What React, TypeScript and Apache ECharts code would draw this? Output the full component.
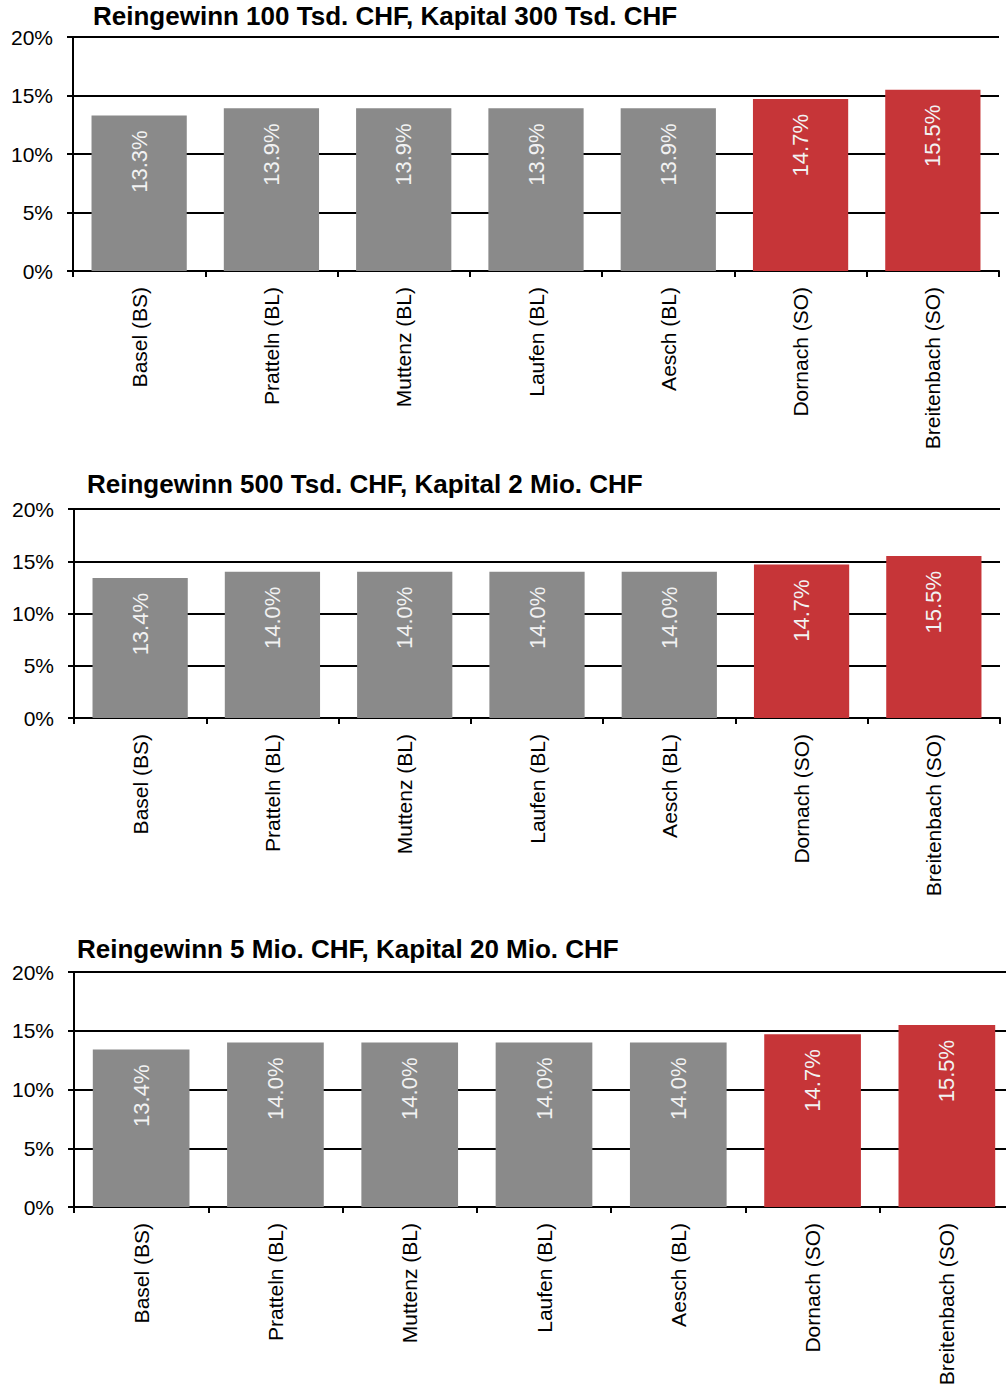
import React, { useEffect, useRef } from "react";
import * as echarts from "echarts";

// Municipalities compared in every panel
const categories = [
  "Basel (BS)",
  "Pratteln (BL)",
  "Muttenz (BL)",
  "Laufen (BL)",
  "Aesch (BL)",
  "Dornach (SO)",
  "Breitenbach (SO)",
];

// Panel titles
const panelTitles = [
  "Reingewinn 100 Tsd. CHF, Kapital 300 Tsd. CHF",
  "Reingewinn 500 Tsd. CHF, Kapital 2 Mio. CHF",
  "Reingewinn 5 Mio. CHF, Kapital 20 Mio. CHF",
];

// Total tax burden in percent
const valuesSmall = [13.3, 13.9, 13.9, 13.9, 13.9, 14.7, 15.5];
const valuesMedium = [13.4, 14.0, 14.0, 14.0, 14.0, 14.7, 15.5];
const valuesLarge = [13.4, 14.0, 14.0, 14.0, 14.0, 14.7, 15.5];

// Y axis ticks
const yTicks = [0, 5, 10, 15, 20];

const GRAY = "#8a8a8a";
const RED = "#c63538";
const FONT = "'Liberation Sans', Arial, sans-serif";

// Layout of each panel: plot area and title placement
const panels = [
  { values: valuesSmall, left: 73, top: 37, width: 926, height: 234, titleLeft: 93, titleTop: 3 },
  { values: valuesMedium, left: 74, top: 509, width: 926, height: 209, titleLeft: 87, titleTop: 471 },
  { values: valuesLarge, left: 74, top: 972, width: 940, height: 235, titleLeft: 77, titleTop: 936 },
];

export default function App() {
  const ref = useRef<HTMLDivElement>(null);

  useEffect(() => {
    if (!ref.current) return;
    const chart = echarts.init(ref.current, undefined, { renderer: "svg" });

    const option: any = {
      animation: false,
      backgroundColor: "#ffffff",
      title: panels.map((p, i) => ({
        text: panelTitles[i],
        left: p.titleLeft,
        top: p.titleTop,
        padding: 0,
        textStyle: { fontFamily: FONT, fontSize: 26, fontWeight: "bold", color: "#000" },
      })),
      grid: panels.map((p) => ({
        left: p.left,
        top: p.top,
        width: p.width,
        height: p.height,
        containLabel: false,
      })),
      xAxis: panels.map((_, i) => ({
        type: "category",
        gridIndex: i,
        data: categories,
        axisLine: { show: true, lineStyle: { color: "#000", width: 2 } },
        axisTick: { show: true, length: 6, lineStyle: { color: "#000", width: 2 } },
        axisLabel: {
          rotate: 90,
          margin: 16,
          interval: 0,
          fontFamily: FONT,
          fontSize: 21,
          color: "#000",
        },
      })),
      yAxis: panels.map((_, i) => ({
        type: "value",
        gridIndex: i,
        min: yTicks[0],
        max: yTicks[yTicks.length - 1],
        interval: yTicks[1] - yTicks[0],
        axisLine: { show: true, lineStyle: { color: "#000", width: 2 } },
        axisTick: { show: true, length: 6, lineStyle: { color: "#000", width: 2 } },
        splitLine: { show: true, lineStyle: { color: "#000", width: 2 } },
        axisLabel: {
          margin: 20,
          formatter: "{value}%",
          fontFamily: FONT,
          fontSize: 21,
          color: "#000",
        },
      })),
      series: panels.map((p, i) => ({
        type: "bar",
        xAxisIndex: i,
        yAxisIndex: i,
        barWidth: "72%",
        data: p.values.map((v, k) => ({
          value: v,
          itemStyle: { color: categories[k].includes("(SO)") ? RED : GRAY },
        })),
        label: {
          show: true,
          position: "insideTop",
          distance: 15,
          rotate: 90,
          align: "right",
          verticalAlign: "middle",
          formatter: (d: any) => d.value.toFixed(1) + "%",
          fontFamily: FONT,
          fontSize: 22,
          color: "#f2f2f2",
        },
      })),
    };

    chart.setOption(option);
    return () => chart.dispose();
  }, []);

  // The chart is a little wider than the page so the last panel's plot can run past the right edge
  return (
    <div style={{ position: "absolute", left: 0, top: 0, width: 1006, height: 1391, overflow: "hidden" }}>
      <div ref={ref} style={{ width: 1020, height: 1391 }} />
    </div>
  );
}
